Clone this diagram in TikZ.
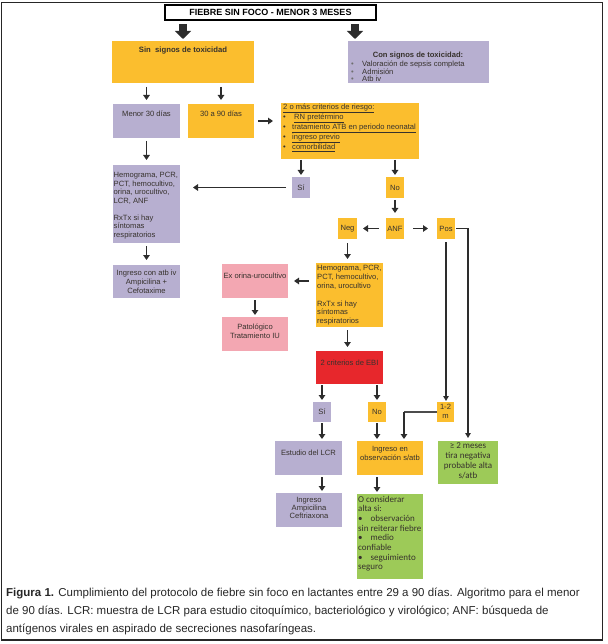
\documentclass[tikz,border=0pt]{standalone}
\usepackage{fontspec}
\setmainfont{Liberation Sans}
\newfontfamily\calfont{Carlito}
\usetikzlibrary{arrows.meta,fit,calc}
\definecolor{orng}{RGB}{251,190,46}
\definecolor{lav}{RGB}{183,175,208}
\definecolor{pnk}{RGB}{243,167,178}
\definecolor{rd}{RGB}{231,39,44}
\definecolor{grnc}{RGB}{157,202,88}
\definecolor{arrc}{RGB}{45,45,45}
\definecolor{txc}{RGB}{55,50,45}
\definecolor{bulc}{RGB}{110,110,110}
\newcommand\blt[1]{\makebox[#1][l]{•}}
\newcommand\bltg[1]{\makebox[#1][l]{\textcolor{bulc}{•}}}
\begin{document}
\begin{tikzpicture}[x=1pt,y=-1pt,
  bx/.style={inner sep=0pt, outer sep=0pt, draw=none},
  ob/.style={bx, fill=orng}, lb/.style={bx, fill=lav}, pb/.style={bx, fill=pnk},
  rb/.style={bx, fill=rd}, gb/.style={bx, fill=grnc},
  tx/.style={inner sep=0pt, text=txc, font={\fontsize{7.6}{8.5}\selectfont}, align=center},
  txl/.style={tx, align=left},
  ar/.style={draw=arrc, line width=1.6pt, -{Triangle[length=5pt,width=6.5pt]}},
  ln/.style={draw=arrc, line width=1.1pt, -{Triangle[length=5pt,width=5.5pt]}},
  thinln/.style={draw=arrc!85, line width=1.1pt},
  big/.style={draw=arrc, line width=8pt, -{Triangle[length=8pt,width=16pt]}},
]
\useasboundingbox (0,0) rectangle (607,644);
\draw[line width=1.3pt, draw=black!85] (1.5,2.5) rectangle (602.5,640);

% boxes
\node[bx, fill=white, draw=black, line width=2pt, fit={(165,5)(376,20)}] (title) {};
\node[ob, fit={(112,41)(254,83)}] (sin) {};
\node[lb, fit={(348,41)(489,83)}] (con) {};
\node[lb, fit={(113,104)(180,138)}] (menor) {};
\node[ob, fit={(188,104)(254,138)}] (t90) {};
\node[ob, fit={(281,103)(419,159)}] (crit) {};
\node[lb, fit={(292,177)(310,198)}] (si1) {};
\node[ob, fit={(386,177)(404,198)}] (no1) {};
\node[lb, fit={(113,165)(180,243)}] (hemL) {};
\node[lb, fit={(113,265)(180,298)}] (ingL) {};
\node[ob, fit={(386,218)(404,239)}] (anf) {};
\node[ob, fit={(338,218)(357,239)}] (neg) {};
\node[ob, fit={(437,218)(455,239)}] (pos) {};
\node[ob, fit={(316,263)(383,327)}] (hemO) {};
\node[pb, fit={(222,264)(288,298)}] (exo) {};
\node[pb, fit={(222,317)(288,351)}] (pat) {};
\node[rb, fit={(316,351)(383,384)}] (ebi) {};
\node[lb, fit={(313,402)(331,422)}] (si2) {};
\node[ob, fit={(368,402)(386,422)}] (no2) {};
\node[ob, fit={(437,402)(454,422)}] (m12) {};
\node[gb, fit={(438,441)(498,484)}] (grn) {};
\node[lb, fit={(275,441)(342,475)}] (lcr) {};
\node[ob, fit={(357,441)(423,475)}] (obs) {};
\node[lb, fit={(276,493)(342,527)}] (amp) {};
\node[gb, fit={(357,494)(423,579)}] (ocon) {};

% texts (anchor=base of a multi-line node = baseline of its last line)
\node[tx, text=black, font={\fontsize{9}{10}\selectfont\bfseries}] (title-t) at (title.center) {FIEBRE SIN FOCO - MENOR 3 MESES};
\node[tx, anchor=base, font={\fontsize{7.7}{9}\selectfont\bfseries}] (sin-t) at (183,52.8) {Sin\ \ signos de toxicidad};
\node[tx, anchor=base, font={\fontsize{7.6}{9}\selectfont\bfseries}] (con-t) at (418,57.5) {Con signos de toxicidad:};
\node[txl, anchor=base west, font={\fontsize{7.6}{7.5}\selectfont}] (con-l) at (351,82) {\bltg{11pt}Valoración de sepsis completa\\\bltg{11pt}Admisión\\\bltg{11pt}Atb iv};
\node[tx, anchor=base] (menor-t) at (146.5,116.8) {Menor 30 días};
\node[tx, anchor=base] (t90-t) at (221,116.8) {30 a 90 días};
\node[txl, anchor=base west] (crit-t) at (283,149.8) {\underline{2 o más criterios de riesgo:}\\\blt{9pt}\hspace{2pt}\underline{RN pretérmino}\\\blt{9pt}\underline{tratamiento ATB en periodo neonatal}\\\blt{9pt}\underline{ingreso previo}\\\blt{9pt}\underline{comorbilidad}};
\node[tx] (si1-t) at (si1.center) {Sí};
\node[tx] (no1-t) at (no1.center) {No};
\node[txl, anchor=base west, font={\fontsize{7.6}{8.45}\selectfont}] (hemL-t) at (113.5,237) {Hemograma, PCR,\\PCT, hemocultivo,\\orina, urocultivo,\\LCR, ANF\\[8.45pt]RxTx si hay\\síntomas\\respiratorios};
\node[tx, anchor=base, font={\fontsize{7.6}{9}\selectfont}] (ingL-t) at (146.5,293.8) {Ingreso con atb iv\\Ampicilina +\\Cefotaxime};
\node[tx] (anf-t) at (anf.center) {ANF};
\node[tx] (neg-t) at (neg.center) {Neg};
\node[tx] (pos-t) at (pos.center) {Pos};
\node[txl, anchor=base west, font={\fontsize{7.6}{8.8}\selectfont}] (hemO-t) at (317,323.6) {Hemograma, PCR,\\PCT, hemocultivo,\\orina, urocultivo\\[8.8pt]RxTx si hay\\síntomas\\respiratorios};
\node[tx, anchor=base] (exo-t) at (255,278.8) {Ex orina-urocultivo};
\node[tx, anchor=base] (pat-t) at (255,338.3) {Patológico\\Tratamiento IU};
\node[tx, anchor=base] (ebi-t) at (349.5,365.8) {2 criterios de EBI};
\node[tx] (si2-t) at (si2.center) {Sí};
\node[tx] (no2-t) at (no2.center) {No};
\node[tx, anchor=base, font={\fontsize{7.6}{9}\selectfont}] (m12-t) at (445.5,418.8) {1-2\\m};
\node[tx, anchor=base] (lcr-t) at (308.5,455.8) {Estudio del LCR};
\node[tx, anchor=base, font={\fontsize{7.6}{9}\selectfont}] (obs-t) at (390,460.8) {Ingreso en\\observación s/atb};
\node[tx, anchor=base, font={\fontsize{7.6}{8}\selectfont}] (amp-t) at (309,518.8) {Ingreso\\Ampicilina\\Ceftriaxona};
\node[tx, anchor=base, font={\calfont\fontsize{9}{10}\selectfont}] (grn-t) at (468,478) {≥ 2 meses\\tira negativa\\probable alta\\s/atb};
\node[txl, anchor=base west, font={\calfont\fontsize{9}{9.7}\selectfont}] (ocon-t) at (358,569.9) {O considerar\\alta si:\\\blt{12.5pt}observación\\sin reiterar fiebre\\\blt{12.5pt}medio\\confiable\\\blt{12.5pt}seguimiento\\seguro};

% caption
\node[anchor=base west, align=left, inner sep=0pt, font={\fontsize{11.5}{18}\selectfont}, text=black!85] (cap) at (6,632) {\textbf{Figura 1.} Cumplimiento del protocolo de fiebre sin foco en lactantes entre 29 a 90 días. Algoritmo para el menor\\de 90 días. LCR: muestra de LCR para estudio citoquímico, bacteriológico y virológico; ANF: búsqueda de\\antígenos virales en aspirado de secreciones nasofaríngeas.};

% connectors
\coordinate (c2) at ([xshift=-21pt]title.south east);
\draw[big, shorten <=4pt, shorten >=2pt] (sin.north |- title.south) -- (sin.north);
\draw[big, shorten <=4pt, shorten >=2pt] (c2) -- (c2 |- con.north);
\draw[ar, shorten <=4pt, shorten >=4pt] (menor.north |- sin.south) -- (menor.north);
\draw[ar, shorten <=4pt, shorten >=4pt] (t90.north |- sin.south) -- (t90.north);
\draw[ar, shorten <=4pt, shorten >=8pt] (t90.east) -- (t90.east -| crit.west);
\draw[ar, shorten <=3pt, shorten >=5pt] (menor.south) -- (hemL.north);
\draw[ar, shorten <=3pt, shorten >=5pt] (hemL.south) -- (ingL.north);
\draw[ar, shorten <=1pt, shorten >=2pt] (si1.north |- crit.south) -- (si1.north);
\draw[ar, shorten <=1pt, shorten >=2pt] (no1.north |- crit.south) -- (no1.north);
\draw[ar, shorten <=6pt, shorten >=13pt] (si1.west) -- (si1.west -| hemL.east);
\draw[ar, shorten <=2pt, shorten >=5pt] (no1.south) -- (anf.north);
\draw[ar, shorten <=7pt, shorten >=6pt] (anf.west) -- (neg.east);
\draw[ar, shorten <=9pt, shorten >=9pt] (anf.east) -- (pos.west);
\draw[ar, shorten <=4pt, shorten >=4pt] (neg.south) -- (neg.south |- hemO.north);
\draw[ar, shorten <=7pt, shorten >=6pt] (hemO.west |- exo.east) -- (exo.east);
\draw[ar, shorten <=2pt, shorten >=2pt] (exo.south) -- (pat.north);
\draw[ar, shorten <=3pt, shorten >=4pt] (neg.south |- hemO.south) -- (neg.south |- ebi.north);
\draw[ar, shorten <=1pt, shorten >=2pt] (si2.north |- ebi.south) -- (si2.north);
\draw[ar, shorten <=1pt, shorten >=2pt] (no2.north |- ebi.south) -- (no2.north);
\draw[ar, shorten <=1pt, shorten >=2pt] (si2.south) -- (si2.south |- lcr.north);
\draw[ar, shorten <=1pt, shorten >=2pt] (no2.south) -- (no2.south |- obs.north);
\draw[ar, shorten <=2pt, shorten >=2pt] (si2.south |- lcr.south) -- (si2.south |- amp.north);
\draw[ar, shorten <=2pt, shorten >=2pt] (no2.south |- obs.south) -- (no2.south |- ocon.north);
\coordinate (obsin) at ([xshift=-19pt]obs.north east);
\draw[thinln] (m12.west) -- (m12.west -| obsin);
\draw[ar, shorten >=2pt] (m12.west -| obsin) -- (obsin);
\draw[ln, shorten <=3pt, shorten >=1pt] (pos.south) -- (pos.south |- m12.north);
\draw[ln, shorten <=1pt, shorten >=3pt] (pos.east) -| (grn.north);
\end{tikzpicture}
\end{document}
